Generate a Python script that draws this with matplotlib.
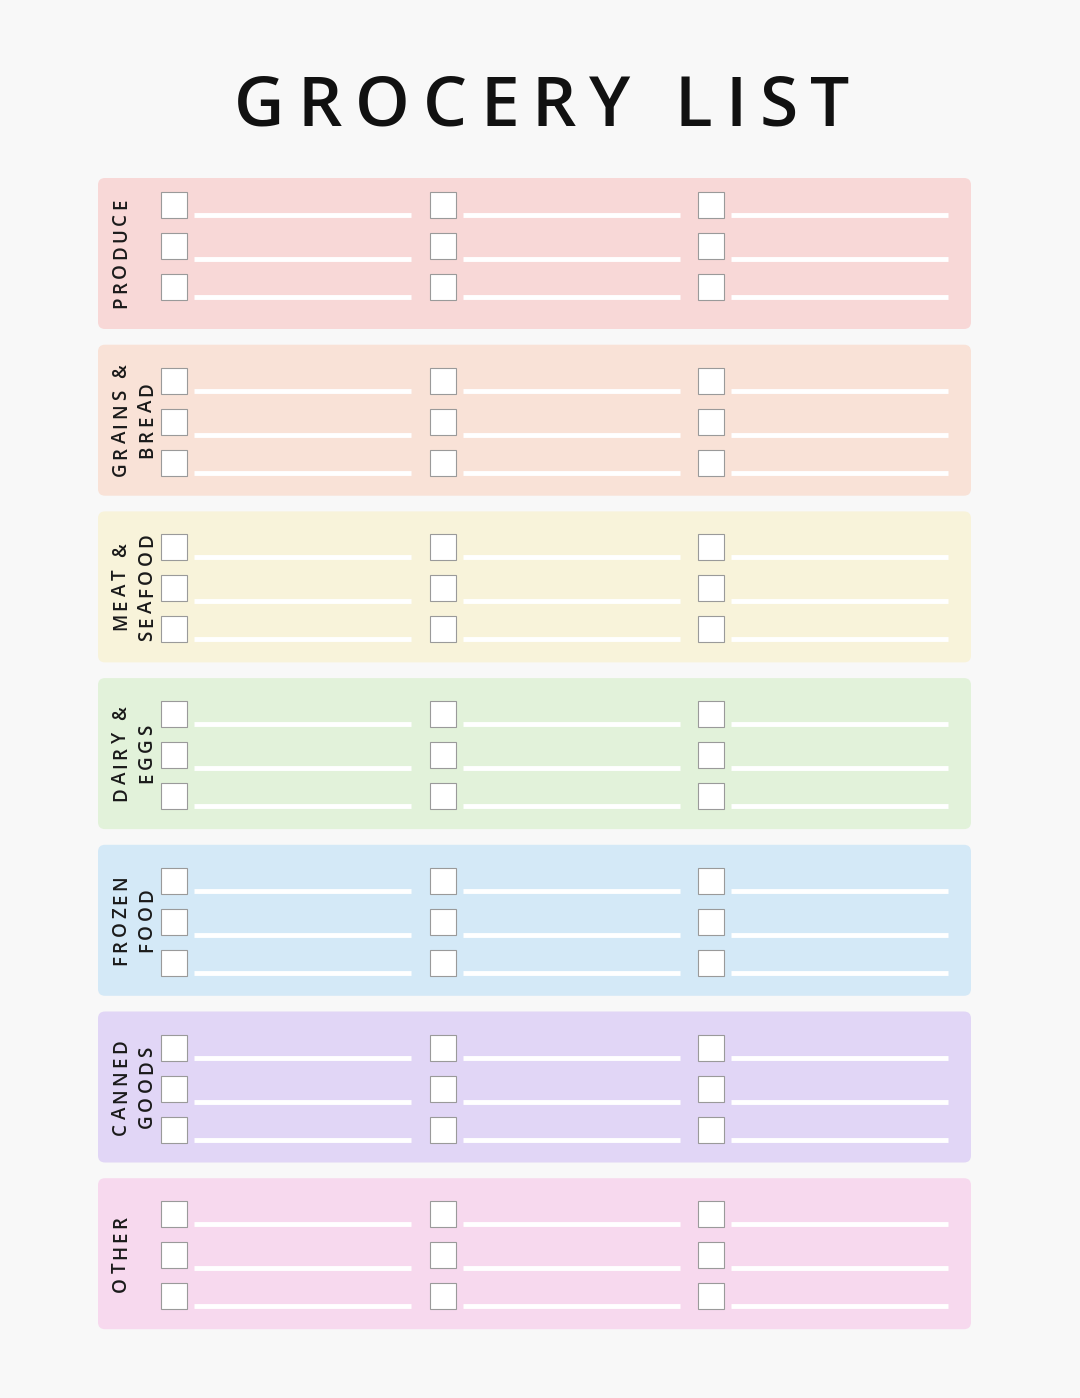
import matplotlib.pyplot as plt
from matplotlib.patches import FancyBboxPatch, Rectangle

categories = ["PRODUCE", "GRAINS &\nBREAD", "MEAT &\nSEAFOOD", "DAIRY &\nEGGS",
              "FROZEN\nFOOD", "CANNED\nGOODS", "OTHER"]
colors = ["#f8d8d7", "#f9e2d7", "#f8f3da", "#e2f2da", "#d4e9f7", "#e1d6f6", "#f7d9ee"]
n_cols = 3
n_rows = 3

W, H = 1080, 1398
fig = plt.figure(figsize=(W / 100, H / 100), dpi=100, facecolor="#f8f8f8")
ax = fig.add_axes([0, 0, 1, 1])
ax.set_xlim(0, W)
ax.set_ylim(H, 0)
ax.axis("off")
renderer = fig.canvas.get_renderer()
FAM = ["Open Sans", "DejaVu Sans"]


def char_w(ch, size, weight):
    # pixel advance of one character (spaces measured via a pair trick)
    t = ax.text(0, 0, "H" + ch + "H", fontsize=size, fontweight=weight, family=FAM)
    h = ax.text(0, 0, "HH", fontsize=size, fontweight=weight, family=FAM)
    w = t.get_window_extent(renderer).width - h.get_window_extent(renderer).width
    t.remove(); h.remove()
    return w


def spaced(s, cx, cy, size, weight, track, vertical=False, color="#111111"):
    ws = [char_w(ch, size, weight) for ch in s]
    total = sum(ws) + track * (len(s) - 1)
    pos = -total / 2
    for ch, w in zip(s, ws):
        mid = pos + w / 2
        if vertical:
            ax.text(cx, cy - mid, ch, rotation=90, ha="center", va="center",
                    fontsize=size, fontweight=weight, family=FAM, color=color)
        else:
            ax.text(cx + mid, cy, ch, ha="center", va="center",
                    fontsize=size, fontweight=weight, family=FAM, color=color)
        pos += w + track


spaced("GROCERY LIST", W / 2 + 2, 108, 50, "semibold", 13)

panel_top0, panel_step, panel_h = 178, 166.7, 151
col_x = [161, 430, 698]
for i, (cat, col) in enumerate(zip(categories, colors)):
    top = panel_top0 + i * panel_step
    ax.add_patch(FancyBboxPatch((98, top), 873, panel_h,
                                boxstyle="round,pad=0,rounding_size=7",
                                fc=col, ec="none"))
    lines = cat.split("\n")
    for k, ln in enumerate(lines):
        spaced(ln, 121 + 26 * k, top + panel_h / 2, 13.5, "semibold", 3.5,
               vertical=True, color="#1a1a1a")
    off = 14 if i == 0 else 23
    for c in range(n_cols):
        x = col_x[c]
        for r in range(n_rows):
            by = top + off + r * 41
            ax.add_patch(Rectangle((x, by), 26, 26, fc="white", ec="#9a9a9a", lw=0.8))
            ly = top + off + [23, 67, 105][r]
            ax.plot([x + 33, x + 250], [ly, ly], color="white", lw=3.5,
                    solid_capstyle="butt")

fig.savefig("out.png", dpi=100, facecolor=fig.get_facecolor())
